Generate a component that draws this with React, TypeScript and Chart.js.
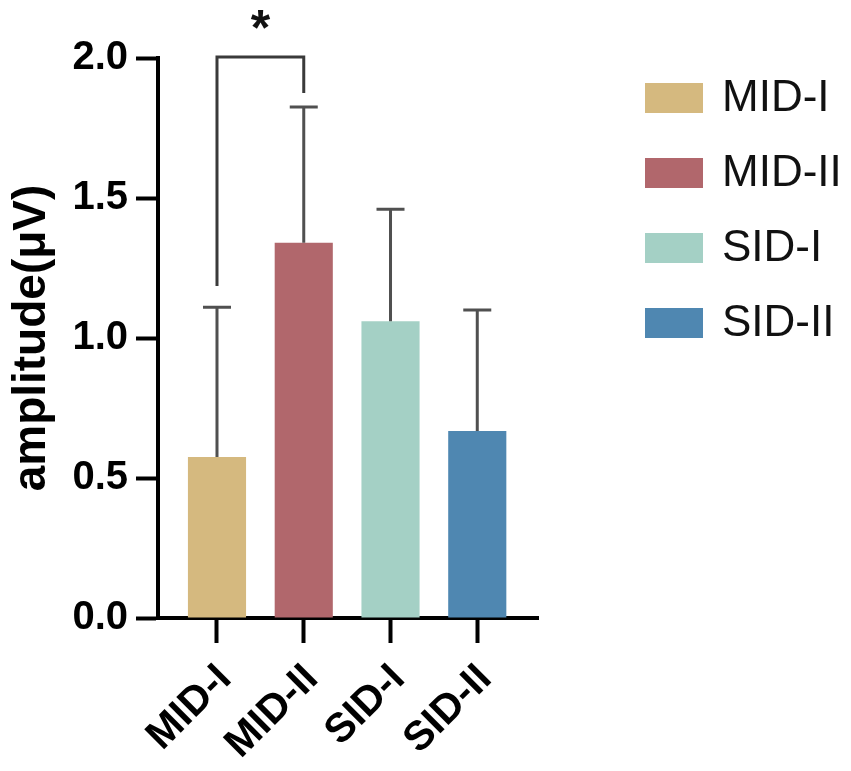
import React, { useEffect, useRef } from "react";
import { Chart, registerables } from "chart.js";

Chart.register(...registerables);

// ---- data ----
const categories = ["MID-I", "MID-II", "SID-I", "SID-II"];
const means = [0.575, 1.34, 1.06, 0.668];
const sds = [0.535, 0.485, 0.4, 0.432];
const colors = ["#D5B97F", "#B1676C", "#A4D0C5", "#4F87B1"];
const yTickValues = [0, 0.5, 1.0, 1.5, 2.0];
const xTickValues = [0, 1, 2, 3];

// significance bracket
const sigFrom = [0];
const sigTo = [1];
const sigText = ["*"];
const sigLeftFoot = [1.186];
const sigTopY = [2.004];
const sigRightFoot = [1.875];
const sigStarY = [2.136];

const FONT = "'Liberation Sans', Arial, sans-serif";

const errorBarPlugin = {
  id: "errorBars",
  afterDatasetsDraw(chart: any) {
    const { ctx, scales } = chart;
    const xs = scales.x;
    const ys = scales.y;
    ctx.save();
    ctx.strokeStyle = "#505050";
    ctx.lineWidth = 3;
    ctx.lineCap = "butt";
    means.forEach((m, i) => {
      const x = xs.getPixelForValue(xTickValues[i]);
      const yb = ys.getPixelForValue(m);
      const yt = ys.getPixelForValue(m + sds[i]);
      ctx.beginPath();
      ctx.moveTo(x, yb);
      ctx.lineTo(x, yt);
      ctx.moveTo(x - 14, yt);
      ctx.lineTo(x + 14, yt);
      ctx.stroke();
    });
    ctx.restore();
  },
};

const bracketPlugin = {
  id: "sigBracket",
  afterDraw(chart: any) {
    const { ctx, scales } = chart;
    const xs = scales.x;
    const ys = scales.y;
    ctx.save();
    ctx.strokeStyle = "#3a3a3a";
    ctx.lineWidth = 3;
    sigFrom.forEach((f, k) => {
      const x1 = xs.getPixelForValue(xTickValues[f]);
      const x2 = xs.getPixelForValue(xTickValues[sigTo[k]]);
      const yl = ys.getPixelForValue(sigLeftFoot[k]);
      const yt = ys.getPixelForValue(sigTopY[k]);
      const yr = ys.getPixelForValue(sigRightFoot[k]);
      ctx.beginPath();
      ctx.moveTo(x1, yl);
      ctx.lineTo(x1, yt);
      ctx.lineTo(x2, yt);
      ctx.lineTo(x2, yr);
      ctx.stroke();
      ctx.fillStyle = "#111";
      ctx.font = `bold 50px ${FONT}`;
      ctx.textAlign = "center";
      ctx.textBaseline = "alphabetic";
      const mt = ctx.measureText(sigText[k]);
      const cy = ys.getPixelForValue(sigStarY[k]);
      const by = cy + (mt.actualBoundingBoxAscent - mt.actualBoundingBoxDescent) / 2;
      ctx.fillText(sigText[k], (x1 + x2) / 2, by);
    });
    ctx.restore();
  },
};

const legendPlugin = {
  id: "sideLegend",
  afterDraw(chart: any) {
    const { ctx } = chart;
    const o = chart.options.plugins.sideLegend;
    ctx.save();
    ctx.font = `${o.fontSize}px ${FONT}`;
    ctx.textAlign = "left";
    ctx.textBaseline = "middle";
    categories.forEach((c, i) => {
      const cy = o.top + i * o.spacing;
      ctx.fillStyle = colors[i];
      ctx.fillRect(o.left, cy - o.boxH / 2, o.boxW, o.boxH);
      ctx.fillStyle = "#111";
      ctx.fillText(c, o.left + o.boxW + o.gap, cy + 1);
    });
    ctx.restore();
  },
};

export default function App() {
  const ref = useRef<HTMLCanvasElement>(null);
  useEffect(() => {
    if (!ref.current) return;
    const chart = new Chart(ref.current, {
      type: "bar",
      data: {
        datasets: [
          {
            data: means.map((m, i) => ({ x: xTickValues[i], y: m })),
            backgroundColor: colors,
            borderWidth: 0,
            barPercentage: 0.67,
            categoryPercentage: 1,
          },
        ],
      },
      plugins: [errorBarPlugin, bracketPlugin, legendPlugin],
      options: {
        responsive: false,
        animation: false,
        devicePixelRatio: 1,
        layout: { padding: { top: 58, right: 313, left: 0, bottom: 0 } },
        plugins: {
          legend: { display: false },
          tooltip: { enabled: false },
          sideLegend: { left: 645, top: 98, spacing: 75, boxW: 58, boxH: 30, gap: 19, fontSize: 44 },
        } as any,
        scales: {
          x: {
            type: "linear",
            min: -0.68,
            max: 3.7,
            offset: false,
            afterBuildTicks: (axis: any) => {
              axis.ticks = xTickValues.map((v) => ({ value: v }));
            },
            afterFit: (scale: any) => {
              scale.height = 153;
            },
            grid: {
              offset: false,
              drawOnChartArea: false,
              drawTicks: true,
              tickLength: 25,
              tickWidth: 4,
              tickColor: "#000",
            },
            border: { display: true, color: "#000", width: 4 },
            ticks: {
              minRotation: 45,
              maxRotation: 45,
              autoSkip: false,
              padding: 12,
              labelOffset: 8,
              color: "#000",
              font: { family: FONT, size: 41, weight: "bold" },
              callback: (v: any) => categories[xTickValues.indexOf(v)] ?? "",
            },
          },
          y: {
            min: 0,
            max: 2,
            afterBuildTicks: (axis: any) => {
              axis.ticks = yTickValues.map((v) => ({ value: v }));
            },
            afterFit: (scale: any) => {
              scale.width = 158;
            },
            grid: {
              drawOnChartArea: false,
              drawTicks: true,
              tickLength: 22,
              tickWidth: 4,
              tickColor: "#000",
            },
            border: { display: true, color: "#000", width: 4 },
            ticks: {
              padding: 8,
              color: "#000",
              font: { family: FONT, size: 40, weight: "bold" },
              callback: (v: any) => Number(v).toFixed(1),
            },
            title: {
              display: true,
              text: "amplitude(μV)",
              color: "#000",
              padding: { top: 5, bottom: 0 },
              font: { family: FONT, size: 46, weight: "bold" },
            },
          },
        },
      } as any,
    });
    return () => chart.destroy();
  }, []);
  return (
    <div style={{ position: "absolute", left: 0, top: 0, width: 851, height: 771, background: "#fff" }}>
      <canvas ref={ref} width={851} height={771} style={{ display: "block" }} />
    </div>
  );
}
